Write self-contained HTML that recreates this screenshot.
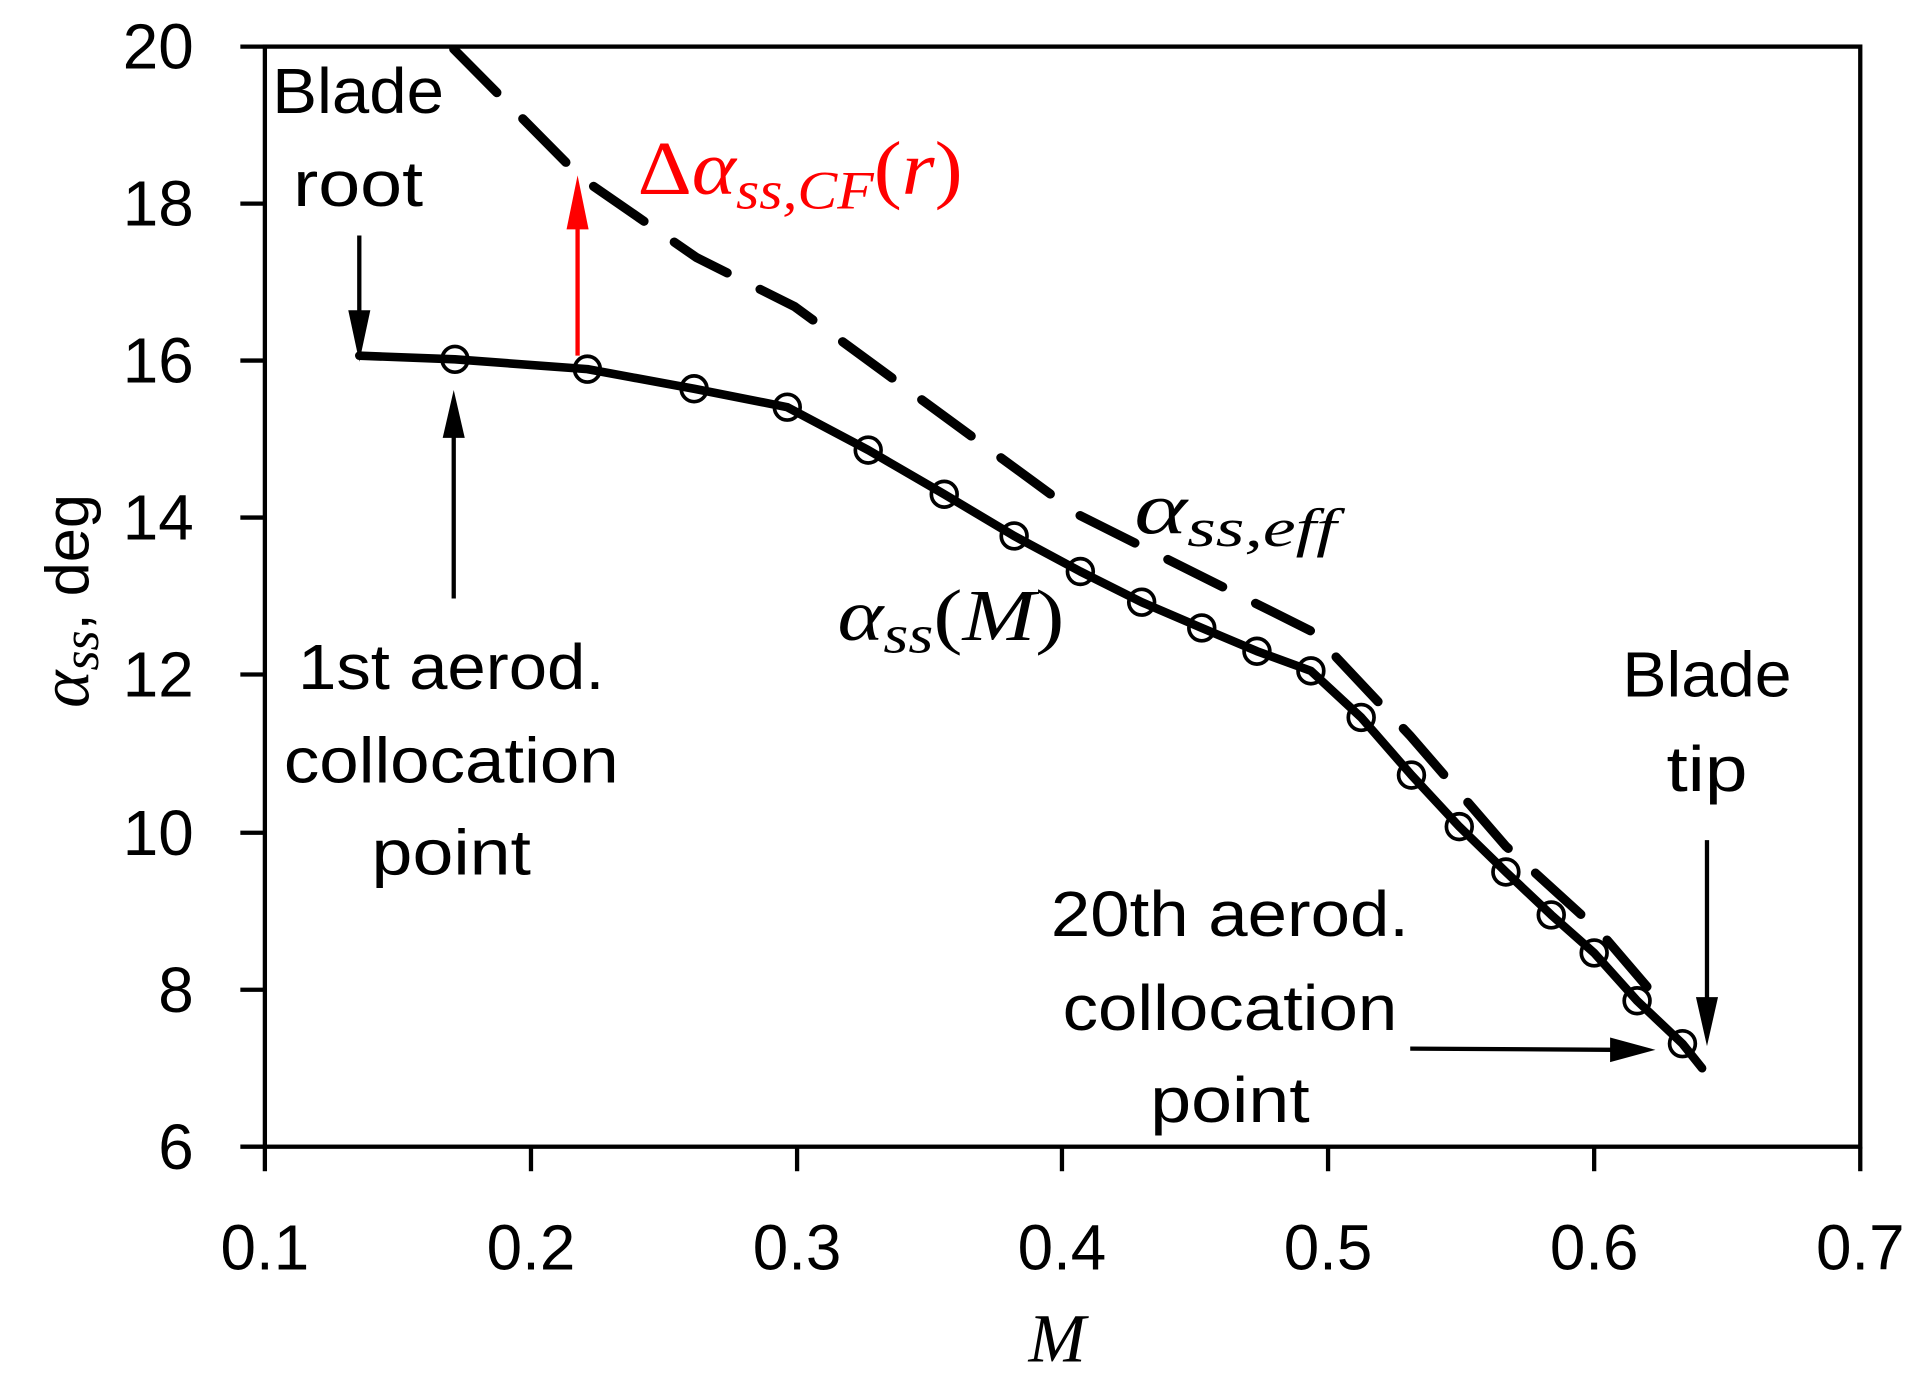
<!DOCTYPE html>
<html><head><meta charset="utf-8"><style>html,body{margin:0;padding:0;background:#fff}svg{display:block}</style></head>
<body>
<svg width="1913" height="1385" viewBox="0 0 1560 1129.3" preserveAspectRatio="none" xmlns="http://www.w3.org/2000/svg">
<rect width="1560" height="1130" fill="#fff"/>
<g font-family="Liberation Sans, sans-serif" font-size="48" fill="#000">
<rect x="216" y="38" width="1301" height="897" fill="none" stroke="#000" stroke-width="3.5"/>
<g stroke="#000" stroke-width="3.5">
<line x1="196" y1="38" x2="216" y2="38"/><line x1="196" y1="166" x2="216" y2="166"/><line x1="196" y1="294" x2="216" y2="294"/><line x1="196" y1="422" x2="216" y2="422"/><line x1="196" y1="550" x2="216" y2="550"/><line x1="196" y1="679" x2="216" y2="679"/><line x1="196" y1="807" x2="216" y2="807"/><line x1="196" y1="935" x2="216" y2="935"/>
<line x1="216" y1="935" x2="216" y2="955"/><line x1="433" y1="935" x2="433" y2="955"/><line x1="650" y1="935" x2="650" y2="955"/><line x1="866" y1="935" x2="866" y2="955"/><line x1="1083" y1="935" x2="1083" y2="955"/><line x1="1300" y1="935" x2="1300" y2="955"/><line x1="1517" y1="935" x2="1517" y2="955"/>
</g>
<g text-anchor="end" font-size="52">
<text x="158" y="56">20</text><text x="158" y="184">18</text><text x="158" y="312">16</text><text x="158" y="440">14</text><text x="158" y="568">12</text><text x="158" y="697">10</text><text x="158" y="825">8</text><text x="158" y="953">6</text>
</g>
<g text-anchor="middle" font-size="52">
<text x="216" y="1035">0.1</text><text x="433" y="1035">0.2</text><text x="650" y="1035">0.3</text><text x="866" y="1035">0.4</text><text x="1083" y="1035">0.5</text><text x="1300" y="1035">0.6</text><text x="1517" y="1035">0.7</text>
</g>
<text x="862" y="1110" text-anchor="middle" font-family="Liberation Serif, serif" font-style="italic" font-size="56">M</text>
<g transform="translate(72,490) rotate(-90)" text-anchor="middle"><text font-size="50"><tspan font-family="Liberation Serif, serif" font-style="italic" font-size="58">α</tspan><tspan font-family="Liberation Serif, serif" font-style="italic" font-size="42" dy="8">ss</tspan><tspan dy="-8">, deg</tspan></text></g>

<polyline points="370,40 474,145 568,210 648,250 880,420 1070,515 1150,600 1228,690 1305,760 1358,822" fill="none" stroke="#000" stroke-width="7.5" stroke-linecap="round" stroke-dasharray="50,30"/>
<polyline points="293,290 371,293 479,301 566,317 642,332 708,367 770,403 827,437 881,466 931,491 980,512 1025,531 1069,547 1110,585 1151,632 1190,674 1228,711 1265,746 1300,777 1335,816 1372,851 1388,871" fill="none" stroke="#000" stroke-width="7" stroke-linecap="round" stroke-linejoin="round"/>
<g fill="none" stroke="#000" stroke-width="3">
<circle cx="371" cy="293" r="10.5"/><circle cx="479" cy="301" r="10.5"/><circle cx="566" cy="317" r="10.5"/><circle cx="642" cy="332" r="10.5"/><circle cx="708" cy="367" r="10.5"/><circle cx="770" cy="403" r="10.5"/><circle cx="827" cy="437" r="10.5"/><circle cx="881" cy="466" r="10.5"/><circle cx="931" cy="491" r="10.5"/><circle cx="980" cy="512" r="10.5"/><circle cx="1025" cy="531" r="10.5"/><circle cx="1069" cy="547" r="10.5"/><circle cx="1110" cy="585" r="10.5"/><circle cx="1151" cy="632" r="10.5"/><circle cx="1190" cy="674" r="10.5"/><circle cx="1228" cy="711" r="10.5"/><circle cx="1265" cy="746" r="10.5"/><circle cx="1300" cy="777" r="10.5"/><circle cx="1335" cy="816" r="10.5"/><circle cx="1372" cy="851" r="10.5"/>
</g>
<line x1="293" y1="192" x2="293" y2="255" stroke="#000" stroke-width="3.5"/>
<polygon points="284,253 302,253 293,295" fill="#000"/>
<line x1="370" y1="488" x2="370" y2="355" stroke="#000" stroke-width="3.5"/>
<polygon points="361,357 379,357 370,318" fill="#000"/>
<line x1="471" y1="290" x2="471" y2="185" stroke="#f00" stroke-width="3.5"/>
<polygon points="462,187 480,187 471,143" fill="#f00"/>
<line x1="1392" y1="685" x2="1392" y2="815" stroke="#000" stroke-width="3.5"/>
<polygon points="1383,813 1401,813 1392,853" fill="#000"/>
<line x1="1150" y1="855" x2="1315" y2="856" stroke="#000" stroke-width="3.5"/>
<polygon points="1313,846 1313,866 1350,856" fill="#000"/>
<g text-anchor="middle" font-size="52">
<text x="292" y="92" textLength="140" lengthAdjust="spacingAndGlyphs">Blade</text>
<text x="292" y="168" textLength="106" lengthAdjust="spacingAndGlyphs">root</text>
<text x="368" y="562" textLength="250" lengthAdjust="spacingAndGlyphs">1st aerod.</text>
<text x="368" y="638" textLength="273" lengthAdjust="spacingAndGlyphs">collocation</text>
<text x="368" y="713" textLength="130" lengthAdjust="spacingAndGlyphs">point</text>
<text x="1392" y="568" textLength="138" lengthAdjust="spacingAndGlyphs">Blade</text>
<text x="1392" y="645" textLength="66" lengthAdjust="spacingAndGlyphs">tip</text>
<text x="1003" y="763" textLength="292" lengthAdjust="spacingAndGlyphs">20th aerod.</text>
<text x="1003" y="840" textLength="273" lengthAdjust="spacingAndGlyphs">collocation</text>
<text x="1003" y="915" textLength="130" lengthAdjust="spacingAndGlyphs">point</text>
</g>
<g font-family="Liberation Serif, serif" font-style="italic">
<text x="520" y="158" fill="#f00" font-size="62" textLength="265" lengthAdjust="spacingAndGlyphs"><tspan font-style="normal">Δ</tspan>α<tspan font-size="44" dy="12">ss,CF</tspan><tspan dy="-12" font-style="normal">(</tspan>r<tspan font-style="normal">)</tspan></text>
<text x="925" y="435" font-size="60" textLength="165" lengthAdjust="spacingAndGlyphs">α<tspan font-size="44" dy="10">ss,eff</tspan></text>
<text x="683" y="522" font-size="60" textLength="185" lengthAdjust="spacingAndGlyphs">α<tspan font-size="44" dy="10">ss</tspan><tspan dy="-10" font-style="normal">(</tspan>M<tspan font-style="normal">)</tspan></text>
</g>
</g>
</svg>
</body></html>
